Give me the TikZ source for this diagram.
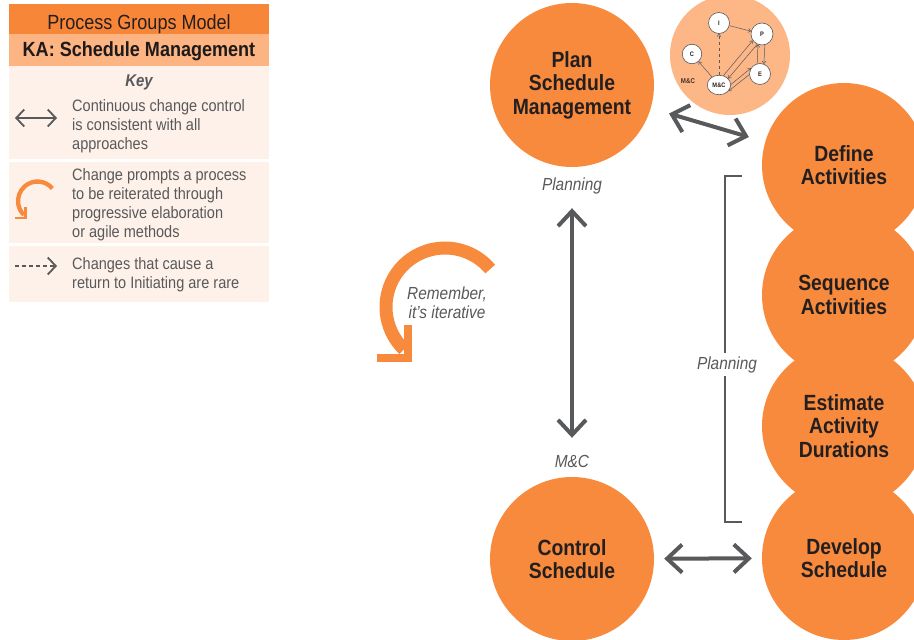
\documentclass[tikz,border=0pt]{standalone}
\usepackage{fontspec}
\setmainfont{Liberation Sans}[FakeStretch=0.88]
\usetikzlibrary{arrows.meta,shapes.geometric}
\definecolor{mainorange}{RGB}{247,138,60}
\definecolor{titleorange}{RGB}{248,134,56}
\definecolor{lightorange}{RGB}{252,180,130}
\definecolor{iconorange}{RGB}{253,182,134}
\definecolor{paleorange}{RGB}{254,241,233}
\definecolor{arrowgray}{RGB}{88,89,91}
\definecolor{textdark}{RGB}{35,31,32}
\newcommand\fs[2]{\fontsize{#1}{#2}\selectfont}
\begin{document}
\begin{tikzpicture}[x=1pt,y=1pt,
  bigcirc/.style={circle, fill=mainorange, minimum size=164pt, inner sep=0pt, align=center, text=textdark, font=\fs{22}{23.5}\bfseries},
  biarrow/.style={{Straight Barb[length=15pt,width=28pt]}-{Straight Barb[length=15pt,width=28pt]}, line width=4pt, draw=arrowgray},
  keyarrow/.style={line width=1.8pt, draw=arrowgray},
  lbl/.style={font=\fs{17.5}{19}\itshape, text=arrowgray, inner sep=0pt, anchor=base},
  keytext/.style={font=\fs{16.5}{19}, text=arrowgray, align=left, inner sep=0pt, anchor=base west},
  smallc/.style={circle, draw=arrowgray, line width=0.6pt, fill=white, inner sep=0pt, minimum size=21pt, font=\fs{6.5}{7}\bfseries, text=textdark},
  iconarrow/.style={-{Straight Barb[length=2.5pt,width=4pt]}, line width=0.5pt, draw=arrowgray},
  iterarc/.style={draw=mainorange},
]
\useasboundingbox (0,0) rectangle (914,-640);
\fill[white] (0,0) rectangle (914,-640);

% ---- key panel ----
\fill[titleorange] (9,-4) rectangle (269,-34);
\fill[lightorange] (9,-34) rectangle (269,-66);
\fill[paleorange] (9,-66) rectangle (269,-159);
\fill[paleorange] (9,-162) rectangle (269,-243);
\fill[paleorange] (9,-246) rectangle (269,-302);
\node[font=\fs{20.5}{22}, text=textdark, anchor=base, inner sep=0pt] (title) at (139,-29.3) {Process Groups Model};
\node[font=\fs{20.5}{22}\bfseries, text=textdark!85!black, anchor=base, inner sep=0pt] (ka) at (139,-56.7) {KA: Schedule Management};
\node[font=\fs{17}{19}\bfseries\itshape, text=arrowgray, anchor=base, inner sep=0pt] (key) at (139,-86) {Key};

\coordinate (k1a) at (15,-118);
\coordinate (k1b) at (57,-118);
\draw[keyarrow, {Straight Barb[length=8pt,width=17pt]}-{Straight Barb[length=8pt,width=17pt]}] (k1a) -- (k1b);
\coordinate (k3a) at (15,-266);
\coordinate (k3b) at (57,-266);
\draw[keyarrow, dash pattern=on 4pt off 3pt, -{Straight Barb[length=8pt,width=17pt]}] (k3a) -- (k3b);

\begin{scope}[shift={(37.5,-201)}, scale=0.33]
  \draw[iterarc, line width=4.3pt] (40:59) arc[start angle=40, end angle=226, radius=59];
  \draw[iterarc, line width=2.6pt, line join=miter] (-68,-51) -- (-37,-51) -- (-37,-18);
\end{scope}

\node[keytext] (k1t) at (72,-149) {Continuous change control\\is consistent with all\\approaches};
\node[keytext] (k2t) at (72,-237) {Change prompts a process\\to be reiterated through\\progressive elaboration\\or agile methods};
\node[keytext] (k3t) at (72,-288) {Changes that cause a\\return to Initiating are rare};

% ---- iterative arrow ----
\begin{scope}[shift={(445,-307)}]
  \draw[iterarc, line width=13pt] (40:59) arc[start angle=40, end angle=226, radius=59];
  \draw[iterarc, line width=8pt, line join=miter] (-68,-51) -- (-37,-51) -- (-37,-18);
\end{scope}
\node[lbl, align=center] (remember) at (447,-318) {Remember,\\it’s iterative};

% ---- process circles ----
\node[bigcirc] (plan) at (572,-85) {Plan\\Schedule\\Management};
\node[bigcirc] (control) at (572,-559) {Control\\Schedule};
\node[bigcirc] (define) at (844,-165) {Define\\Activities};
\node[bigcirc] (sequence) at (844,-295) {Sequence\\Activities};
\node[bigcirc] (estimate) at (844,-426) {Estimate\\Activity\\Durations};
\node[bigcirc] (develop) at (844,-558) {Develop\\Schedule};

\node[lbl] (planlbl) at (572,-190.5) {Planning};
\node[lbl] (mclbl) at (572,-467) {M\&C};

\draw[biarrow, shorten <=41pt, shorten >=39pt] (plan) -- (control);
\draw[biarrow, shorten <=19pt, shorten >=17pt] (plan) -- (define);
\draw[biarrow, shorten <=10pt, shorten >=10pt] (control) -- (develop);

% bracket
\coordinate (bt) at (742,-176);
\coordinate (bb) at (742,-522);
\draw[draw=arrowgray, line width=2pt] (bt) -- (725,-176) -- (725,-522) -- (bb);
\node[lbl, fill=white, inner xsep=1pt, inner ysep=3pt] (brlbl) at (727,-369) {Planning};

% ---- icon ----
\node[circle, fill=iconorange, minimum size=120pt, inner sep=0pt] (icon) at (730,-55) {};
\node[smallc] (ni) at (719,-23) {I};
\node[smallc, minimum size=22pt] (np) at (762,-34) {P};
\node[smallc, minimum size=19.5pt] (nc) at (692,-54) {C};
\node[smallc] (ne) at (760,-74) {E};
\node[smallc, ellipse, minimum width=23.5pt, minimum height=19.5pt] (nmc) at (719,-85) {M\&C};
\node[font=\fs{7}{8}\bfseries, text=textdark!80!brown, inner sep=0pt] (mcicon) at (688,-81) {M\&C};

\draw[iconarrow] (ni) -- (np);
\draw[iconarrow, dashed] (nmc) -- (ni);
\draw[iconarrow] (nmc) -- (nc);
\draw[iconarrow] (nmc.65) -- (np.215);
\draw[iconarrow] (np.245) -- (nmc.35);
\draw[iconarrow] (nmc.3) -- (ne.147);
\draw[iconarrow] (ne.183) -- (nmc.-33);
\draw[iconarrow] (np.-75) -- (ne.69);
\draw[iconarrow] (ne.105) -- (np.-111);
\end{tikzpicture}
\end{document}
